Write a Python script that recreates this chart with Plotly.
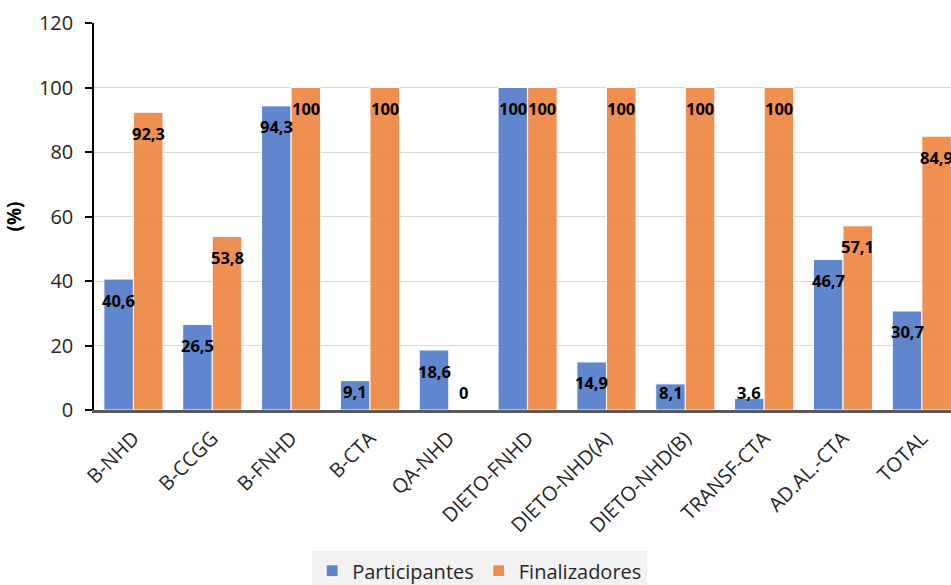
import plotly.graph_objects as go

# Programme categories and the two percentage series
categories = ["B-NHD", "B-CCGG", "B-FNHD", "B-CTA", "QA-NHD", "DIETO-FNHD",
              "DIETO-NHD(A)", "DIETO-NHD(B)", "TRANSF-CTA", "AD.AL.-CTA", "TOTAL"]
participantes = [40.6, 26.5, 94.3, 9.1, 18.6, 100, 14.9, 8.1, 3.6, 46.7, 30.7]
finalizadores = [92.3, 53.8, 100, 100, 0, 100, 100, 100, 100, 57.1, 84.9]
y_ticks = [0, 20, 40, 60, 80, 100, 120]

BLUE = "rgba(68,114,196,0.85)"
ORANGE = "rgba(237,125,49,0.85)"
FONT = "Open Sans, Noto Sans, DejaVu Sans, sans-serif"
BARGAP = 0.25

W, H = 951, 585
M_L, M_R, M_T, M_B = 94, 0, 23, 175
Y_MAX = 120
X_MAX = 10.37

fig = go.Figure()
fig.add_trace(go.Bar(name="Participantes", x=categories, y=participantes,
                     marker=dict(color=BLUE, line=dict(color="white", width=1))))
fig.add_trace(go.Bar(name="Finalizadores", x=categories, y=finalizadores,
                     marker=dict(color=ORANGE, line=dict(color="white", width=1))))

# value labels just inside the top of each bar, kept above the baseline for short bars
px_per_unit = (H - M_T - M_B) / Y_MAX
half = (1 - BARGAP) / 4
annotations = []
for series, off in ((participantes, -half), (finalizadores, half)):
    for i, v in enumerate(series):
        shift = max(-21, 18 - v * px_per_unit)
        annotations.append(dict(
            x=i + off, y=v, xref="x", yref="y", yshift=shift,
            text=f"{v:g}".replace(".", ","), showarrow=False,
            font=dict(family=FONT, size=16.5, color="black", weight="bold"),
        ))

fig.update_layout(
    width=W, height=H,
    margin=dict(l=M_L, r=M_R, t=M_T, b=M_B, autoexpand=False),
    barmode="group", bargap=BARGAP, bargroupgap=0,
    plot_bgcolor="white", paper_bgcolor="white",
    font=dict(family=FONT, size=20, color="#262626"),
    annotations=annotations,
    legend=dict(orientation="h", x=0.45, xanchor="center", y=-0.365, yanchor="top",
                bgcolor="#f2f2f2", font=dict(size=20, color="#262626")),
    xaxis=dict(type="category", range=[-0.5, X_MAX], showline=True,
               linecolor="#595959", linewidth=2.5, ticks="", tickangle=-45,
               showgrid=False, ticklabelstandoff=6),
    yaxis=dict(range=[0, Y_MAX], tickvals=y_ticks, showline=True, linecolor="black",
               linewidth=1.5, ticks="outside", ticklen=7, tickcolor="black",
               tickwidth=1.5, gridcolor="#d9d9d9", gridwidth=1, zeroline=False,
               ticklabelstandoff=8,
               title=dict(text="<b>(%)</b>", standoff=12,
                          font=dict(size=19, color="black"))),
)

fig.write_html("out.html")
